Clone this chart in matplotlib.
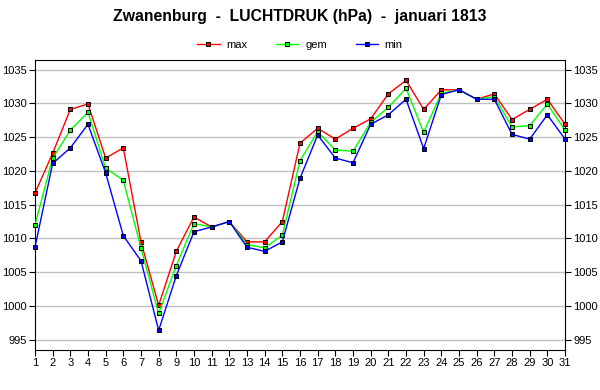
import numpy as np
import matplotlib.pyplot as plt

plt.rcParams['font.family'] = ['Liberation Sans', 'DejaVu Sans']

# luchtdruk per dag, januari 1813
days = list(range(1, 32))
p_max = [1016.7, 1022.6, 1029.1, 1029.9, 1021.9, 1023.4, 1009.5, 1000.1, 1008.1, 1013.2,
         1011.7, 1012.5, 1009.5, 1009.5, 1012.5, 1024.1, 1026.3, 1024.7, 1026.3, 1027.7,
         1031.4, 1033.4, 1029.1, 1032.0, 1032.0, 1030.6, 1031.4, 1027.6, 1029.1, 1030.6, 1026.9]
p_gem = [1012.0, 1021.9, 1026.0, 1028.7, 1020.4, 1018.6, 1008.6, 998.9, 1006.0, 1012.2,
         1011.7, 1012.5, 1009.1, 1008.6, 1010.5, 1021.5, 1025.8, 1023.1, 1022.9, 1027.2,
         1029.4, 1032.2, 1025.7, 1031.5, 1032.0, 1030.6, 1031.0, 1026.5, 1026.7, 1029.9, 1026.0]
p_min = [1008.7, 1021.1, 1023.4, 1026.9, 1019.7, 1010.4, 1006.7, 996.4, 1004.5, 1011.0,
         1011.7, 1012.5, 1008.7, 1008.1, 1009.5, 1018.9, 1025.3, 1021.9, 1021.2, 1026.9,
         1028.3, 1030.6, 1023.3, 1031.3, 1032.0, 1030.6, 1030.6, 1025.4, 1024.7, 1028.3, 1024.7]
y_ticks = [995, 1000, 1005, 1010, 1015, 1020, 1025, 1030, 1035]

fig = plt.figure(figsize=(6, 3.9), dpi=100)
ax = fig.add_axes([0.0583, 0.1026, 0.8834, 0.7434])

series = [(p_max, '#ff0000', 'max'), (p_gem, '#00ff00', 'gem'), (p_min, '#0000ff', 'min')]
for vals, col, lab in series:
    ax.plot(days, vals, color=col, lw=1, marker='s', markersize=3,
            markerfacecolor=col, markeredgecolor='black', markeredgewidth=0.7,
            label=lab, clip_on=False, zorder=3)

ax.set_xlim(1, 31)
ax.set_ylim(993.5, 1036.4)
ax.set_xticks(days)
ax.set_yticks(y_ticks)
ax.grid(axis='y', color='#c0c0c0', lw=1)
ax.set_axisbelow(True)
ax.tick_params(axis='both', labelsize=8, length=4, direction='out', pad=2)
ax.tick_params(axis='y', right=True, labelright=True)

ax.set_title('Zwanenburg  -  LUCHTDRUK (hPa)  -  januari 1813',
             fontsize=11.3, fontweight='bold', pad=28)
ax.legend(loc='lower center', bbox_to_anchor=(0.5, 1.0), ncol=3, frameon=False,
          fontsize=8, handlelength=2, columnspacing=2.6, handletextpad=0.6)

plt.savefig('out.png', dpi=100)
